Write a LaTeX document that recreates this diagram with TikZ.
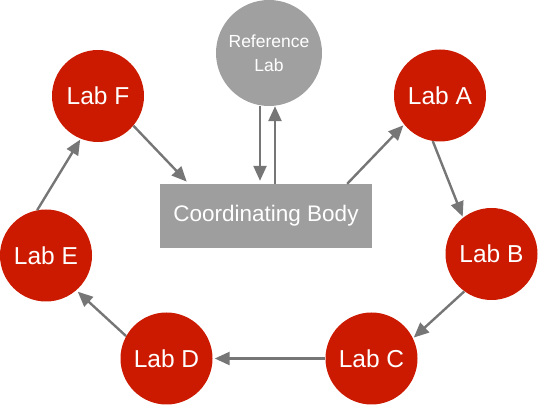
\documentclass[tikz,border=0pt]{standalone}
\usepackage{fontspec}
\setmainfont{Liberation Sans}
\usetikzlibrary{arrows.meta}
\definecolor{labred}{HTML}{CC1A00}
\definecolor{refgray}{HTML}{A0A0A0}
\definecolor{bodygray}{HTML}{9D9E9D}
\definecolor{arrowgray}{HTML}{767676}
\tikzset{
  lab/.style={circle, fill=labred, minimum size=92pt, inner sep=0pt, text=white,
    font=\fontsize{24.5}{28}\selectfont},
  refnode/.style={circle, fill=refgray, minimum size=106pt, inner sep=0pt, text=white,
    align=center, font=\fontsize{17.5}{24}\selectfont},
  bodybox/.style={rectangle, fill=bodygray, minimum width=212pt, minimum height=64pt,
    inner sep=0pt, text=white, font=\fontsize{22.5}{26}\selectfont},
  conn/.style={draw=arrowgray, line width=2.4pt, -{Triangle[length=15pt,width=13pt]}}
}
\begin{document}
\begin{tikzpicture}[x=1pt,y=1pt]
\useasboundingbox (0,0) rectangle (538,406);
\node[refnode] (ref) at (269,353) {Reference\\Lab};
\node[bodybox] (body) at (266,190) {Coordinating Body};
\node[lab] (labF) at (98,310) {Lab F};
\node[lab] (labA) at (440,310.5) {Lab A};
\node[lab] (labE) at (46,150.5) {Lab E};
\node[lab] (labB) at (491.5,152) {Lab B};
\node[lab] (labD) at (166.5,47.5) {Lab D};
\node[lab] (labC) at (371.5,47.5) {Lab C};
\draw[conn, shorten >=3pt] ([xshift=-9pt]ref.south) -- ([xshift=-6pt]body.north);
\draw[conn] ([xshift=9pt]body.north) -- ([xshift=6pt]ref.south);
\draw[conn, shorten >=3pt] (labF.-40) -- ([xshift=29pt]body.north west);
\draw[conn, shorten >=1pt] (labE.101) -- (labF.248);
\draw[conn, shorten >=1pt] ([xshift=-25pt]body.north east) -- (labA.219);
\draw[conn, shorten >=1pt] (labA.261) -- (labB.128);
\draw[conn, shorten >=1pt] (labB.234) -- (labC.26);
\draw[conn, shorten >=2pt] (labC.west) -- (labD.east);
\draw[conn, shorten >=2pt] (labD.151) -- (labE.-49);
\end{tikzpicture}
\end{document}
